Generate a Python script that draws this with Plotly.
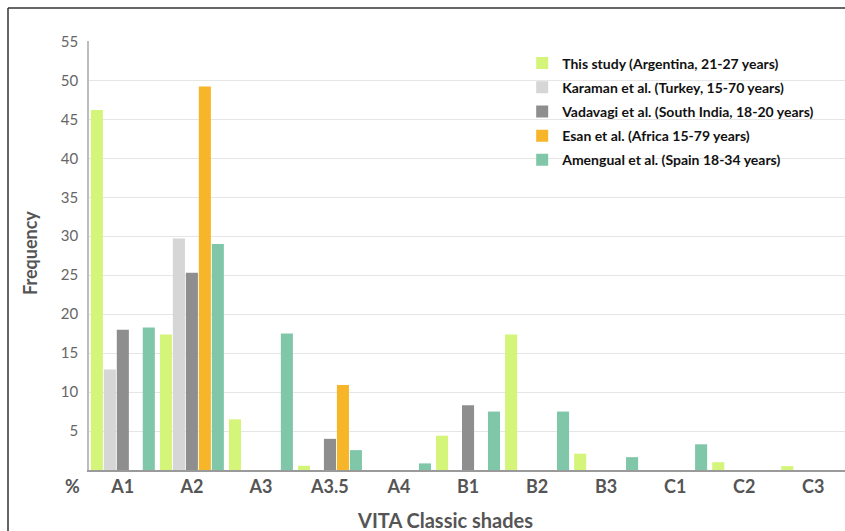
import plotly.graph_objects as go

categories = ["A1", "A2", "A3", "A3.5", "A4", "B1", "B2", "B3", "C1", "C2", "C3"]

this_study = [46.2, 17.4, 6.5, 0.55, 0, 4.4, 17.4, 2.1, 0, 1.0, 0.5]
karaman = [12.9, 29.7, 0, 0, 0, 0, 0, 0, 0, 0, 0]
vadavagi = [18.0, 25.3, 0, 4.0, 0, 8.3, 0, 0, 0, 0, 0]
esan = [0, 49.2, 0, 10.9, 0, 0, 0, 0, 0, 0, 0]
amengual = [18.3, 29.0, 17.5, 2.55, 0.85, 7.5, 7.5, 1.65, 3.3, 0, 0]

series_names = [
    "This study (Argentina, 21-27 years)",
    "Karaman et al. (Turkey, 15-70 years)",
    "Vadavagi et al. (South India, 18-20 years)",
    "Esan et al. (Africa 15-79 years)",
    "Amengual et al. (Spain 18-34 years)",
]
series_values = [this_study, karaman, vadavagi, esan, amengual]
colors = ["#d4f57a", "#d6d6d6", "#8e8e8e", "#f7b52a", "#80c7a9"]

y_ticks = [5, 10, 15, 20, 25, 30, 35, 40, 45, 50, 55]

xpos = list(range(len(categories)))

fig = go.Figure()
for i, (name, vals, col) in enumerate(zip(series_names, series_values, colors)):
    fig.add_trace(go.Bar(
        x=xpos, y=vals, name=name, marker=dict(color=col, line=dict(width=0)),
        legendgroup=f"g{i}",
    ))

font_family = "Lato, 'Open Sans', sans-serif"

fig.update_layout(
    width=845, height=531,
    margin=dict(l=89, r=0, t=41, b=61),
    paper_bgcolor="white", plot_bgcolor="white",
    barmode="group", bargap=0.06, bargroupgap=0.07,
    font=dict(family=font_family, color="#555"),
    showlegend=True,
    legend=dict(
        x=0.573, y=0.985, xanchor="left", yanchor="top",
        font=dict(size=14, color="#111", family=font_family, weight="bold"),
        bgcolor="rgba(255,255,255,0)", tracegroupgap=3,
        traceorder="grouped",
    ),
    xaxis=dict(
        range=[-0.49, 10.46], tickmode="array", tickvals=xpos, ticktext=categories,
        showgrid=False, zeroline=False, showline=True, linecolor="#9a9a9a", linewidth=1.5,
        ticks="", tickfont=dict(size=18, color="#555", family=font_family, weight="bold"),
    ),
    yaxis=dict(
        range=[0, 55.05], tickmode="array", tickvals=y_ticks,
        showgrid=True, gridcolor="#e6e6e6", gridwidth=1,
        zeroline=False, showline=True, linecolor="#bdbdbd", linewidth=1.5,
        ticks="", ticklabelstandoff=6,
        tickfont=dict(size=15, color="#666", family=font_family),
    ),
    annotations=[
        dict(text="<b>Frequency</b>", x=(30 - 89) / 756, y=(470 - 253) / 429, xref="paper", yref="paper",
             xanchor="center", yanchor="middle",
             textangle=-90, showarrow=False, font=dict(size=18, color="#555")),
        dict(text="<b>%</b>", x=(72 - 89) / 756, y=(470 - 486) / 429, xref="paper", yref="paper",
             xanchor="center", yanchor="middle",
             showarrow=False, font=dict(size=18, color="#555")),
        dict(text="<b>VITA Classic shades</b>", x=(445 - 89) / 756, y=(470 - 520) / 429,
             xanchor="center", yanchor="middle",
             xref="paper", yref="paper", showarrow=False, font=dict(size=20, color="#555")),
    ],
    shapes=[
        dict(type="line", xref="paper", yref="paper", x0=(8 - 89) / 756, x1=1.05,
             y0=(470 - 8) / 429, y1=(470 - 8) / 429, line=dict(color="#333", width=1.5)),
        dict(type="line", xref="paper", yref="paper", x0=(8 - 89) / 756, x1=(8 - 89) / 756,
             y0=(470 - 8) / 429, y1=-0.2, line=dict(color="#333", width=1.5)),
    ],
)

fig.write_html(
    "out.html",
    config={"displayModeBar": False},
    post_script="document.body.style.margin='0';document.body.style.overflow='hidden';",
)
